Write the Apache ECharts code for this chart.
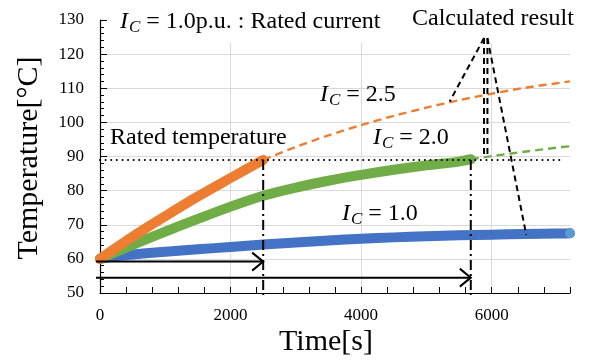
<!DOCTYPE html>
<html><head><meta charset="utf-8">
<script src="https://cdn.jsdelivr.net/npm/echarts@6/dist/echarts.min.js"></script>
<style>html,body{margin:0;padding:0;background:#fff}#c{width:596px;height:360px}</style>
</head><body><div id="c"></div>
<script>
// ---- data ----
const blueTime  = [0, 250, 500, 1000, 1500, 2000, 2500, 3000, 3500, 4000, 4500, 5000, 5500, 6000, 6500, 7000, 7200];
const blueTemp  = [60, 60.8, 61.3, 62.1, 62.8, 63.5, 64.2, 64.8, 65.4, 65.9, 66.3, 66.6, 66.9, 67.1, 67.3, 67.4, 67.5];
const orangeTime = [0, 500, 1000, 1500, 2000, 2500];
const orangeTemp = [60, 66.5, 72.5, 78.3, 83.7, 89.0];
const orangeCalcTime = [2500, 3000, 3500, 4000, 4500, 5000, 5500, 6000, 6500, 7200];
const orangeCalcTemp = [89.0, 92.8, 96.2, 99.2, 101.9, 104.3, 106.5, 108.4, 110.1, 112.0];
const greenTime = [0, 500, 1000, 1500, 2000, 2500, 3000, 3500, 4000, 4500, 5000, 5500, 5680];
const greenTemp = [60, 64.1, 68.0, 71.7, 75.3, 78.5, 80.9, 82.9, 84.6, 86.1, 87.4, 88.5, 89.2];
const greenCalcTime = [5680, 6000, 6500, 7000, 7200];
const greenCalcTemp = [89.2, 90.1, 91.4, 92.6, 93.0];
const ratedTemp = 89;
const ratedLineEnd = 7050;
const reachTimes = [2500, 5680];       // times at which rated temperature is reached
const arrowLevels = [59.2, 54.5];      // y level of the time arrows
// callout segments: [t1, T1, t2, T2]
const calloutSegs = [
  [5883, 124.7, 5357, 106.1],
  [5883, 124.7, 5883, 90.5],
  [5935, 124.7, 5935, 90.5],
  [5935, 124.7, 6530, 67.0]
];
const xTicks = [0, 2000, 4000, 6000];
const yMin = 50, yMax = 130;

const zip = (a, b) => a.map((v, i) => [v, b[i]]);
const FF = 'Liberation Serif';

const chart = echarts.init(document.getElementById('c'), null, {renderer: 'canvas'});

function richText(x, y, rest) {
  return {type: 'text', left: x, top: y, z: 10,
    style: {text: '{i|I}{s|C}{n|' + rest + '}', fontFamily: FF, fontSize: 24, fill: '#000',
      rich: {
        i: {fontFamily: FF, fontSize: 24, fontStyle: 'italic', fill: '#000'},
        s: {fontFamily: FF, fontSize: 17, fontStyle: 'italic', fill: '#000', padding: [11, 0, 0, 1]},
        n: {fontFamily: FF, fontSize: 24, fill: '#000'}
      }}};
}
function plainText(x, y, t, size, extra) {
  return Object.assign({type: 'text', x: x, y: y, z: 10,
    style: {text: t, fontFamily: FF, fontSize: size, fill: '#000', align: 'left', verticalAlign: 'middle'}}, extra || {});
}

const option = {
  backgroundColor: '#fff',
  animation: false,
  textStyle: {fontFamily: FF, color: '#000'},
  grid: {left: 100, right: 26, top: 20, bottom: 67},
  xAxis: [
    {type: 'value', min: 0, max: 7200, interval: 2000,
      axisLine: {show: true, lineStyle: {color: '#000', width: 1.2}},
      axisTick: {show: false},
      axisLabel: {fontFamily: FF, fontSize: 17, color: '#000', margin: 14,
        formatter: v => (xTicks.indexOf(v) >= 0 ? String(v) : '')},
      splitLine: {show: true, showMaxLine: false, lineStyle: {color: '#d9d9d9', width: 1}}},
    {type: 'value', min: 0, max: 7200, interval: 400, position: 'bottom',
      axisLine: {show: false},
      axisTick: {show: true, inside: true, length: 6, lineStyle: {color: '#000', width: 1}},
      axisLabel: {show: false}, splitLine: {show: false}}
  ],
  yAxis: {type: 'value', min: yMin, max: yMax, interval: 10,
    axisLine: {show: true, lineStyle: {color: '#000', width: 1.2}},
    axisTick: {show: true, inside: true, length: 7, lineStyle: {color: '#000'}},
    minorTick: {show: true, splitNumber: 5, length: 4, lineStyle: {color: '#000'}},
    axisLabel: {fontFamily: FF, fontSize: 17, color: '#000', margin: 16},
    splitLine: {show: true, showMaxLine: false, showMinLine: false, lineStyle: {color: '#d9d9d9', width: 1}}},
  graphic: [
    {type: 'rect', shape: {x: 108, y: 0, width: 470, height: 43}, style: {fill: '#fff'}, z: 1},
    plainText(29, 158, 'Temperature[°C]', 30, {rotation: Math.PI / 2, style: {text: 'Temperature[°C]', fontFamily: FF, fontSize: 30, fill: '#000', align: 'center', verticalAlign: 'middle'}}),
    plainText(326, 342, 'Time[s]', 30, {style: {text: 'Time[s]', fontFamily: FF, fontSize: 30, fill: '#000', align: 'center', verticalAlign: 'middle'}}),
    richText(120, 10, ' = 1.0p.u. : Rated current'),
    plainText(412, 19, 'Calculated result', 24),
    plainText(110, 138, 'Rated temperature', 24),
    richText(320, 83, ' = 2.5'),
    richText(373, 126, ' = 2.0'),
    richText(342, 202, ' = 1.0')
  ],
  series: [
    {type: 'line', name: 'IC=1.0', data: zip(blueTime, blueTemp).map((p, i, a) => i === a.length - 1 ?
        {value: p, symbol: 'circle', symbolSize: 10, itemStyle: {color: '#5b9bd5'}} : {value: p, symbol: 'none'}),
      symbol: 'none', showSymbol: true, smooth: 0.3, z: 3,
      lineStyle: {color: '#4472c4', width: 10, cap: 'round', join: 'round'}},
    {type: 'line', name: 'IC=2.0', data: zip(greenTime, greenTemp), showSymbol: false, smooth: 0.3, z: 3,
      lineStyle: {color: '#70ad47', width: 10, cap: 'round', join: 'round'}},
    {type: 'line', name: 'IC=2.5', data: zip(orangeTime, orangeTemp), showSymbol: false, smooth: 0.3, z: 3,
      lineStyle: {color: '#ed7d31', width: 10, cap: 'round', join: 'round'}},
    {type: 'line', name: 'IC=2.5 calc', data: zip(orangeCalcTime, orangeCalcTemp), showSymbol: false, smooth: 0.3, z: 3,
      lineStyle: {color: '#ed7d31', width: 2.4, type: [8, 5]}},
    {type: 'line', name: 'IC=2.0 calc', data: zip(greenCalcTime, greenCalcTemp), showSymbol: false, smooth: 0.3, z: 3,
      lineStyle: {color: '#70ad47', width: 2.4, type: [8, 5]}},
    {type: 'line', name: 'rated', data: [[0, ratedTemp], [ratedLineEnd, ratedTemp]], showSymbol: false, z: 4,
      lineStyle: {color: '#000', width: 2, type: [0.1, 5.5], cap: 'round'}},
    {type: 'custom', name: 'reach', clip: false, z: 4, data: reachTimes.map(t => [t, ratedTemp, yMin]),
      renderItem: (params, api) => {
        const a = api.coord([api.value(0), api.value(1)]);
        const b = api.coord([api.value(0), api.value(2)]);
        return {type: 'line', shape: {x1: a[0], y1: a[1], x2: b[0], y2: b[1] + 2},
          style: {stroke: '#000', lineWidth: 2, lineDash: [10, 4, 2, 4]}};
      }},
    {type: 'custom', name: 'arrows', clip: false, z: 4, data: reachTimes.map((t, i) => [0, arrowLevels[i], t]),
      renderItem: (params, api) => {
        const p0 = api.coord([api.value(0), api.value(1)]);
        const p1 = api.coord([api.value(2), api.value(1)]);
        return {type: 'group', children: [
          {type: 'line', shape: {x1: p0[0] - 4, y1: p0[1], x2: p1[0], y2: p1[1]}, style: {stroke: '#000', lineWidth: 2}},
          {type: 'polyline', shape: {points: [[p1[0] - 11, p1[1] - 9], [p1[0], p1[1]], [p1[0] - 11, p1[1] + 9]]},
            style: {stroke: '#000', lineWidth: 2, fill: null}}
        ]};
      }},
    {type: 'custom', name: 'callout', clip: false, z: 4, data: calloutSegs,
      renderItem: (params, api) => {
        const a = api.coord([api.value(0), api.value(1)]);
        const b = api.coord([api.value(2), api.value(3)]);
        return {type: 'line', shape: {x1: a[0], y1: a[1], x2: b[0], y2: b[1]},
          style: {stroke: '#000', lineWidth: 2, lineDash: [6, 4]}};
      }}
  ]
};
chart.setOption(option);
</script>
</body></html>
